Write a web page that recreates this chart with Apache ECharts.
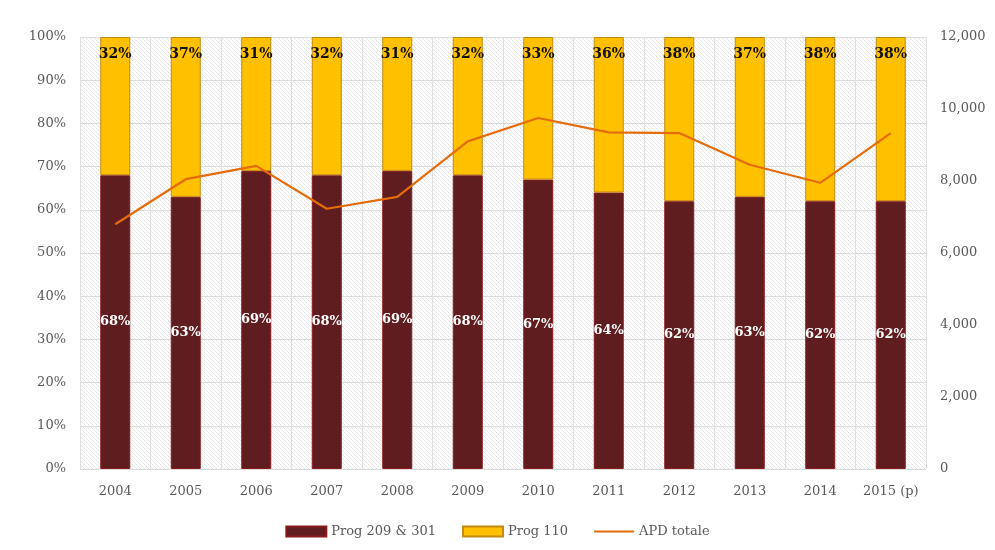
<!DOCTYPE html>
<html>
<head>
<meta charset="utf-8">
<script src="https://cdn.jsdelivr.net/npm/echarts@6/dist/echarts.min.js"></script>
<style>
    html, body { margin: 0; padding: 0; background: #fff; }
    #main { width: 995px; height: 550px; }
</style>
</head>
<body>
<div id="main"></div>
<script>
"use strict";

// years on the axis
const years = ['2004', '2005', '2006', '2007', '2008', '2009', '2010', '2011', '2012', '2013', '2014', '2015 (p)'];
// share of Prog 209 & 301 (%)
const prog209 = [68, 63, 69, 68, 69, 68, 67, 64, 62, 63, 62, 62];
// share of Prog 110 (%)
const prog110 = [32, 37, 31, 32, 31, 32, 33, 36, 38, 37, 38, 38];
// APD totale (right axis)
const apdTotale = [6800, 8050, 8420, 7230, 7560, 9100, 9750, 9350, 9330, 8450, 7950, 9330];

const serif = 'Georgia, "DejaVu Serif", "Liberation Serif", serif';

// hatched background of the plot area
const makeHatch = () => {
    const c = document.createElement('canvas');
    c.width = 4;
    c.height = 4;
    const ctx = c.getContext('2d');
    ctx.fillStyle = '#ffffff';
    ctx.fillRect(0, 0, 4, 4);
    ctx.fillStyle = '#e2e2e2';
    ctx.fillRect(0, 0, 1, 1);
    ctx.fillRect(2, 2, 1, 1);
    ctx.fillStyle = '#eeeeee';
    ctx.fillRect(1, 1, 1, 1);
    ctx.fillRect(3, 3, 1, 1);
    return c;
};

const chart = echarts.init(document.getElementById('main'));

const option = {
    animation: false,
    grid: {
        left: 80,
        right: 69,
        top: 37,
        bottom: 81,
        show: true,
        borderWidth: 0,
        backgroundColor: { image: makeHatch(), repeat: 'repeat' }
    },
    legend: {
        bottom: 7,
        left: 'center',
        itemGap: 26,
        itemWidth: 40,
        itemHeight: 10,
        textStyle: { fontFamily: serif, fontSize: 13, color: '#595959' },
        data: [
            { name: 'Prog 209 & 301', icon: 'rect' },
            { name: 'Prog 110', icon: 'rect' },
            { name: 'APD totale', icon: 'path://M0,4L40,4L40,6L0,6Z' }
        ]
    },
    xAxis: {
        type: 'category',
        data: years,
        axisLine: { show: false },
        axisTick: { show: false },
        axisLabel: { interval: 0, fontFamily: serif, fontSize: 13, color: '#595959', margin: 16 },
        splitLine: { show: true, interval: 0, lineStyle: { color: '#e0e0e0', width: 1 } }
    },
    yAxis: [{
        type: 'value',
        min: 0,
        max: 100,
        interval: 10,
        axisLine: { show: false },
        axisTick: { show: false },
        axisLabel: { formatter: '{value}%', fontFamily: serif, fontSize: 13, color: '#595959', margin: 14 },
        splitLine: { lineStyle: { color: '#dcdcdc', width: 1 } }
    }, {
        type: 'value',
        min: 0,
        max: 12000,
        interval: 2000,
        axisLine: { show: false },
        axisTick: { show: false },
        axisLabel: {
            formatter: v => v.toLocaleString('en-US'),
            fontFamily: serif, fontSize: 13, color: '#595959', margin: 14
        },
        splitLine: { show: false }
    }],
    series: [{
        name: 'Prog 209 & 301',
        type: 'bar',
        stack: 'share',
        barWidth: 30,
        data: prog209,
        itemStyle: { color: '#5f1d1f', borderColor: '#8a1a1c', borderWidth: 1 },
        label: {
            show: true,
            position: 'inside',
            formatter: '{c}%',
            color: '#ffffff',
            fontFamily: serif,
            fontSize: 13,
            fontWeight: 'bold'
        }
    }, {
        name: 'Prog 110',
        type: 'bar',
        stack: 'share',
        barWidth: 30,
        data: prog110,
        itemStyle: { color: '#ffc000', borderColor: '#c08a10', borderWidth: 1 },
        label: {
            show: true,
            position: 'insideTop',
            distance: 10,
            formatter: '{c}%',
            color: '#111111',
            fontFamily: serif,
            fontSize: 14,
            fontWeight: 'bold'
        }
    }, {
        name: 'APD totale',
        type: 'line',
        yAxisIndex: 1,
        data: apdTotale,
        symbol: 'none',
        z: 5,
        itemStyle: { color: '#e46c0a' },
        lineStyle: { color: '#e46c0a', width: 2.2 }
    }]
};

chart.setOption(option);
</script>
</body>
</html>
